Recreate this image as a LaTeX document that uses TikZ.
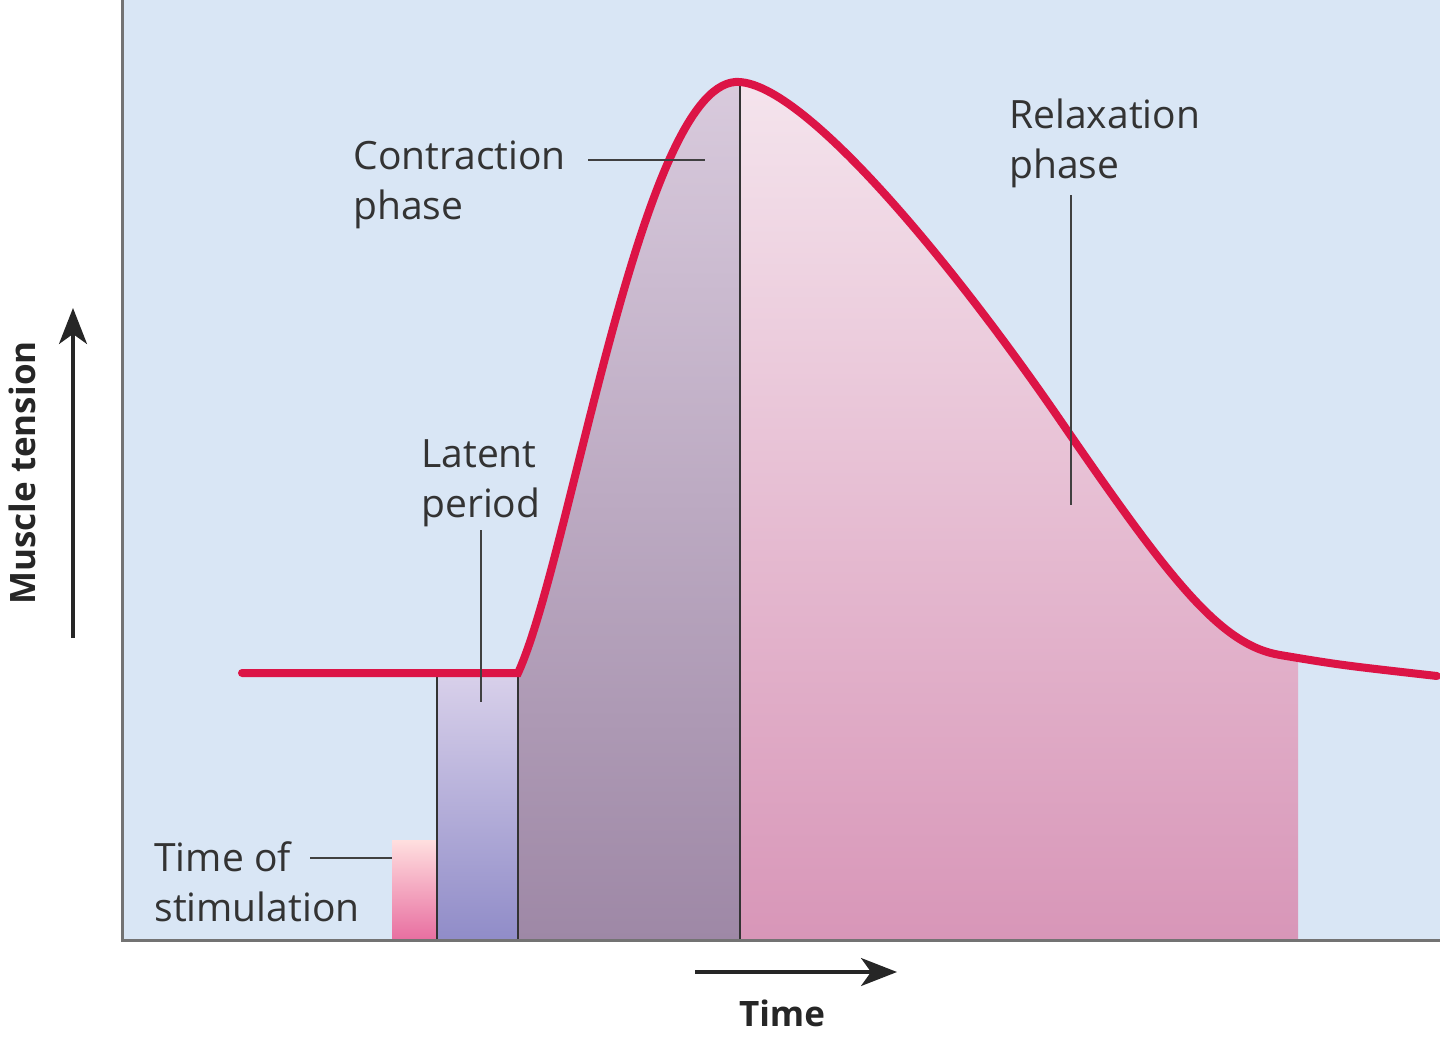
\documentclass[tikz,border=0pt]{standalone}
\usepackage{fontspec}
\setmainfont{Open Sans}
\usetikzlibrary{arrows.meta}
\begin{document}
\begin{tikzpicture}[x=0.5pt,y=-0.5pt,
  lbl/.style={align=left,anchor=west,inner sep=0pt,font=\fontsize{19.5}{25}\selectfont,text=black!80},
  lead/.style={draw=black!75,line width=0.8pt},
  ax/.style={draw=black!85,line width=1.6pt,-{Stealth[length=18pt,width=14pt,inset=5pt]}}]
\useasboundingbox (0,0) rectangle (1440,1039);
\definecolor{bgb}{HTML}{D9E6F5}
\fill[bgb] (122,0) rectangle (1440,940);
% stimulation
\shade[top color=pink!50,bottom color={rgb,255:red,232;green,110;blue,160}] (392,840) rectangle (437,940);
% latent
\shade[top color={rgb,255:red,216;green,208;blue,234},bottom color={rgb,255:red,144;green,140;blue,200}] (437,675) rectangle (518,940);
\def\curve{(518,673) .. controls (570,560) and (640,90) .. (735,82) .. controls (800,78) and (950,260) .. (1060,420) .. controls (1170,580) and (1220,645) .. (1280,655) .. controls (1340,665) .. (1437,676)}
\begin{scope}
\clip (518,940) -- \curve -- (1437,940) -- cycle;
\shade[top color={rgb,255:red,218;green,204;blue,222},bottom color={rgb,255:red,158;green,136;blue,166}] (518,60) rectangle (740,940);
\shade[top color={rgb,255:red,245;green,230;blue,238},middle color={rgb,255:red,240;green,218;blue,230},bottom color={rgb,255:red,216;green,150;blue,184}] (740,60) rectangle (1298,940);
\end{scope}
\foreach \x/\y in {437/675,518/673,740/84} \draw[black!80,line width=0.9pt] (\x,940) -- (\x,\y);
\draw[line width=4pt,color={rgb,255:red,220;green,20;blue,70},line cap=round] (242,673) -- \curve;
\draw[black!55,line width=1.5pt] (122,0) -- (122,940) -- (1440,940);
% labels
\node[lbl] (con) at (353,185) {Contraction\\phase};
\node[lbl] (rel) at (1009,143) {Relaxation\\phase};
\node[lbl] (lat) at (421,483) {Latent\\period};
\node[lbl] (sti) at (154,882) {Time of\\stimulation};
\coordinate (c1) at (588,160); \coordinate (c2) at (705,160);
\coordinate (r1) at (1071,195); \coordinate (r2) at (1071,505);
\coordinate (l1) at (481,530); \coordinate (l2) at (481,702);
\coordinate (s1) at (310,858); \coordinate (s2) at (392,858);
\draw[lead] (c1)--(c2); \draw[lead] (r1)--(r2); \draw[lead] (l1)--(l2); \draw[lead] (s1)--(s2);
\coordinate (a1) at (73,638); \coordinate (a2) at (73,308);
\draw[ax] (a1)--(a2);
\node[rotate=90,font=\bfseries\fontsize{17.5}{20}\selectfont,text=black!85] (mt) at (22,473) {Muscle tension};
\coordinate (b1) at (695,972); \coordinate (b2) at (897,972);
\draw[ax] (b1)--(b2);
\node[font=\bfseries\fontsize{17.5}{20}\selectfont,text=black!85] (tm) at (782,1013) {Time};
\end{tikzpicture}
\end{document}
